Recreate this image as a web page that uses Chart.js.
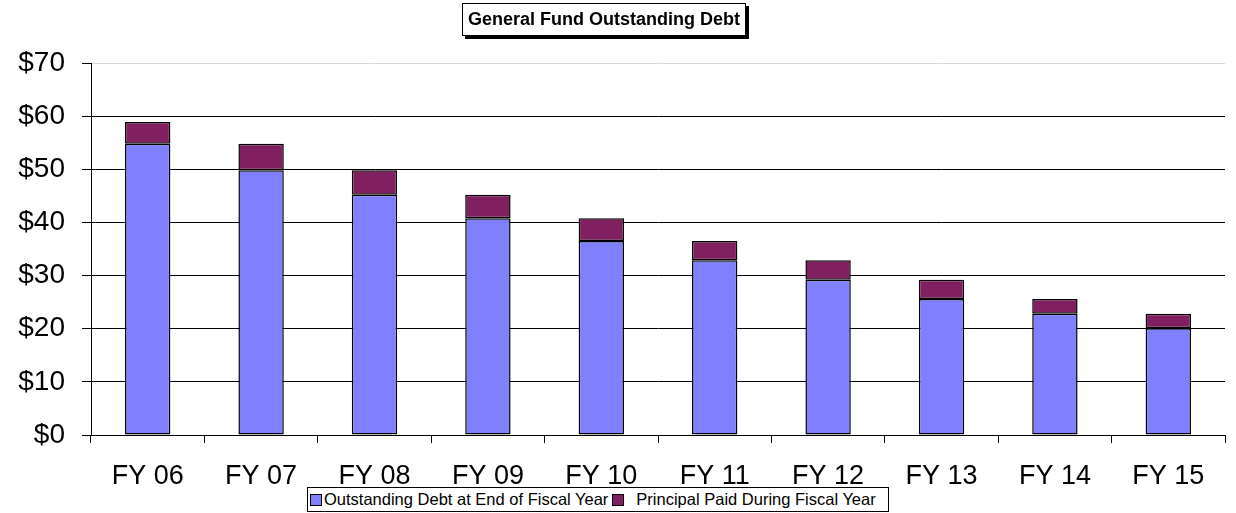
<!DOCTYPE html>
<html>
<head>
<meta charset="utf-8">
<title>General Fund Outstanding Debt</title>
<script src="https://cdn.jsdelivr.net/npm/chart.js@4/dist/chart.umd.min.js"></script>
<style>
  html, body { margin: 0; padding: 0; background: #fff; }
  #wrap { position: relative; width: 1236px; height: 513px; overflow: hidden; }
  #chart { position: absolute; left: 0; top: 0; }
  #title {
    position: absolute; left: 462px; top: 3px; width: 282px; height: 31px;
    border: 1px solid #000; box-shadow: 3px 3px 0 #000; background: #fff;
    font: bold 18px "Liberation Sans", Arial, sans-serif; color: #000;
    display: flex; align-items: center; justify-content: center; white-space: nowrap;
  }
  #legend {
    position: absolute; left: 307px; top: 487px; width: 582px; height: 25px;
    border: 1px solid #000; background: #fff; box-sizing: border-box;
    font: 16.5px "Liberation Sans", Arial, sans-serif; color: #000;
    display: flex; align-items: center; white-space: nowrap; padding-left: 2px;
  }
  .item { display: flex; align-items: center; margin-right: 4px; }
  .swatch { width: 10px; height: 10px; border: 1px solid #000; margin-right: 2px; }
  .item + .item .swatch { margin-right: 12px; }
</style>
</head>
<body>
<div id="wrap">
  <canvas id="chart" width="1236" height="513"></canvas>
  <div id="title">General Fund Outstanding Debt</div>
  <div id="legend"></div>
</div>
<script>
// Fiscal years and debt amounts ($ millions)
const years = ['FY 06', 'FY 07', 'FY 08', 'FY 09', 'FY 10', 'FY 11', 'FY 12', 'FY 13', 'FY 14', 'FY 15'];
const outstandingDebt = [54.8, 49.8, 45.2, 40.8, 36.5, 32.9, 29.2, 25.6, 22.8, 20.1];
const principalPaid = [4.1, 5.0, 4.6, 4.4, 4.3, 3.6, 3.7, 3.6, 2.8, 2.7];
const seriesNames = ['Outstanding Debt at End of Fiscal Year', 'Principal Paid During Fiscal Year'];
const yTicks = [0, 10, 20, 30, 40, 50, 60, 70];

const FONT = '"Liberation Sans", Arial, sans-serif';

const chart = new Chart(document.getElementById('chart'), {
  type: 'bar',
  data: {
    labels: years,
    datasets: [
      {
        label: seriesNames[0],
        data: outstandingDebt,
        backgroundColor: '#8080FF',
        borderColor: '#000',
        borderWidth: 1.5,
        borderSkipped: false,
        barPercentage: 0.4,
        categoryPercentage: 1.0
      },
      {
        label: seriesNames[1],
        data: principalPaid,
        backgroundColor: '#802060',
        borderColor: '#000',
        borderWidth: 1.5,
        borderSkipped: false,
        barPercentage: 0.4,
        categoryPercentage: 1.0
      }
    ]
  },
  options: {
    responsive: false,
    animation: false,
    layout: { padding: { top: 63, right: 11, left: 0, bottom: 0 } },
    plugins: {
      legend: { display: false },
      title: { display: false },
      tooltip: { enabled: false }
    },
    scales: {
      x: {
        stacked: true,
        offset: true,
        afterFit: (s) => { s.height = 78; },
        border: { display: true, color: '#000', width: 1 },
        grid: {
          offset: true,
          drawOnChartArea: false,
          drawTicks: true,
          tickLength: 8,
          color: '#000',
          tickColor: '#000'
        },
        ticks: {
          color: '#000',
          padding: 17,
          maxRotation: 0,
          font: { family: FONT, size: 27 }
        }
      },
      y: {
        stacked: true,
        min: yTicks[0],
        max: yTicks[yTicks.length - 1],
        afterFit: (s) => { s.width = 91; },
        afterBuildTicks: (s) => { s.ticks = yTicks.map(v => ({ value: v })); },
        border: { display: true, color: '#000', width: 1 },
        grid: {
          drawTicks: true,
          tickLength: 9,
          color: (ctx) => (ctx.tick && ctx.tick.value === 70) ? '#d8d8d8' : '#000',
          tickColor: '#000'
        },
        ticks: {
          color: '#000',
          padding: 17,
          font: { family: FONT, size: 28 },
          callback: (v) => '$' + v
        }
      }
    }
  }
});

// Legend built from the chart's datasets
const legendEl = document.getElementById('legend');
chart.data.datasets.forEach((ds) => {
  const item = document.createElement('div');
  item.className = 'item';
  const sw = document.createElement('span');
  sw.className = 'swatch';
  sw.style.background = ds.backgroundColor;
  const txt = document.createElement('span');
  txt.textContent = ds.label;
  item.appendChild(sw);
  item.appendChild(txt);
  legendEl.appendChild(item);
});
</script>
</body>
</html>
